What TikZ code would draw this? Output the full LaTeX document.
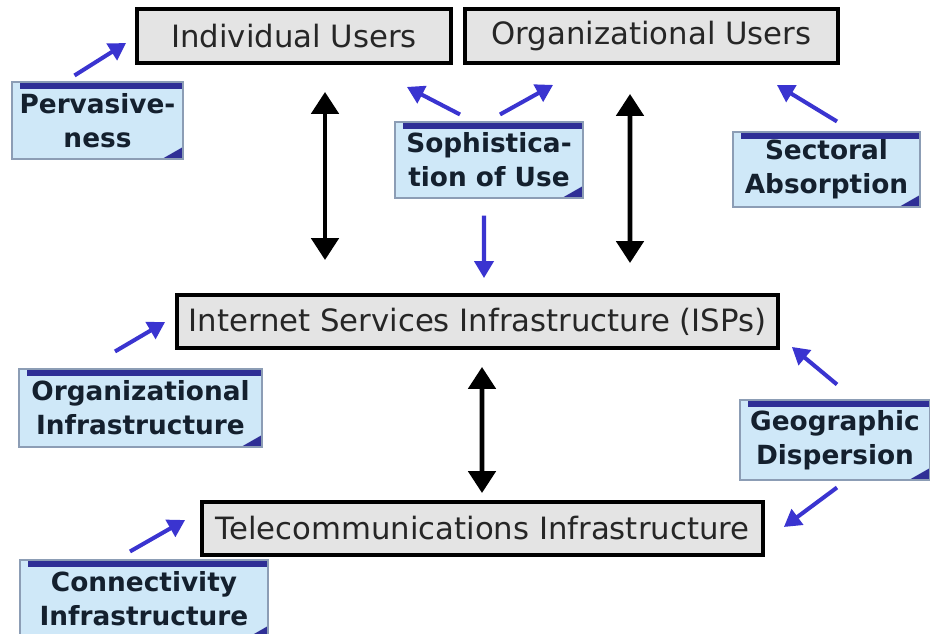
\documentclass[tikz,border=0pt]{standalone}
\usepackage{fontspec}
\setmainfont{DejaVu Sans}
\usetikzlibrary{arrows.meta, calc}
\definecolor{BoxGray}{HTML}{E4E4E4}
\definecolor{NoteBlue}{HTML}{CFE8F8}
\definecolor{NoteEdge}{HTML}{8C9DB5}
\definecolor{NoteBand}{HTML}{2F2F96}
\definecolor{NoteText}{HTML}{14202E}
\definecolor{PointerBlue}{HTML}{3A34D0}

\begin{document}
\begin{tikzpicture}[x=0.02cm, y=-0.02cm,
  level/.style={draw=black, line width=2.2pt, fill=BoxGray, minimum height=1.08cm, inner sep=0pt, text=black!85, font=\fontsize{17.5}{20}\selectfont},
  note/.style={draw=NoteEdge, line width=0.6pt, fill=NoteBlue, align=center, inner sep=0pt, text=NoteText, font=\bfseries\fontsize{15}{19.5}\selectfont,
    path picture={
      \fill[NoteBand] ([xshift=0.16cm]path picture bounding box.north west) rectangle ([yshift=-0.13cm]path picture bounding box.north east);
      \fill[NoteBand] (path picture bounding box.south east) -- ++(-0.42cm,0) -- ++(0.42cm,0.24cm) -- cycle;
    }},
  pointer/.style={-{Triangle[length=0.34cm, width=0.38cm]}, line width=2.3pt, color=PointerBlue},
  link/.style={{Triangle[length=0.44cm, width=0.54cm]}-{Triangle[length=0.44cm, width=0.54cm]}, line width=2.8pt}]
  \useasboundingbox (0,0) rectangle (930,634);

  % Levels
  \node[level, minimum width=6.28cm] (indiv) at (294,36) {Individual Users};
  \node[level, minimum width=7.46cm] (orgu) at (651.5,36) {Organizational Users};
  \node[level, minimum width=12.02cm, minimum height=1.06cm] (isp) at (477.5,321.5) {Internet Services Infrastructure (ISPs)};
  \node[level, minimum width=11.22cm, minimum height=1.06cm] (tele) at (482.5,528.5) {Telecommunications Infrastructure};

  % Notes
  \node[note, minimum width=3.42cm, minimum height=1.54cm] (perv) at (97.5,120.5) {Pervasive-\\ness};
  \node[note, minimum width=3.76cm, minimum height=1.52cm] (soph) at (489,160) {Sophistica-\\tion of Use};
  \node[note, minimum width=3.74cm, minimum height=1.5cm] (sect) at (826.5,169.5) {Sectoral\\Absorption};
  \node[note, minimum width=4.86cm, minimum height=1.56cm] (orginf) at (140.5,408) {Organizational\\Infrastructure};
  \node[note, minimum width=3.8cm, minimum height=1.6cm] (geo) at (835,440) {Geographic\\Dispersion};
  \node[note, minimum width=4.96cm, minimum height=1.56cm] (conn) at (144,599) {Connectivity\\Infrastructure};

  % Arrows
  \draw[link] ($(indiv.south)+(31,27)$) -- ($(isp.north)+(-152.5,-33)$);
  \draw[link] ($(orgu.south)+(-21.5,29)$) -- ($(isp.north)+(152.5,-30)$);
  \draw[link] ($(isp.south)+(4.5,17)$) -- ($(tele.north)+(-0.5,-7)$);

  \draw[pointer] ($(perv.north)+(-23,-6)$) -- ($(indiv.west)+(-9,7)$);
  \draw[pointer] ($(soph.north)+(-29,-7)$) -- ($(indiv.south east)+(-46,22)$);
  \draw[pointer] ($(soph.north)+(11,-7)$) -- ($(orgu.south west)+(90,20)$);
  \draw[pointer] ($(soph.south)+(-5,17)$) -- ($(isp.north)+(6.5,-15)$);
  \draw[pointer] ($(sect.north)+(10.5,-10)$) -- ($(orgu.south east)+(-63,20)$);
  \draw[pointer] ($(orginf.north)+(-25.5,-17)$) -- ($(isp.west)+(-10,0.5)$);
  \draw[pointer] ($(geo.north)+(2,-15)$) -- ($(isp.south east)+(12,-3)$);
  \draw[pointer] ($(geo.south)+(2,7)$) -- ($(tele.east)+(19,-1.5)$);
  \draw[pointer] ($(conn.north)+(-14,-8)$) -- ($(tele.west)+(-15,-8.5)$);
\end{tikzpicture}
\end{document}
